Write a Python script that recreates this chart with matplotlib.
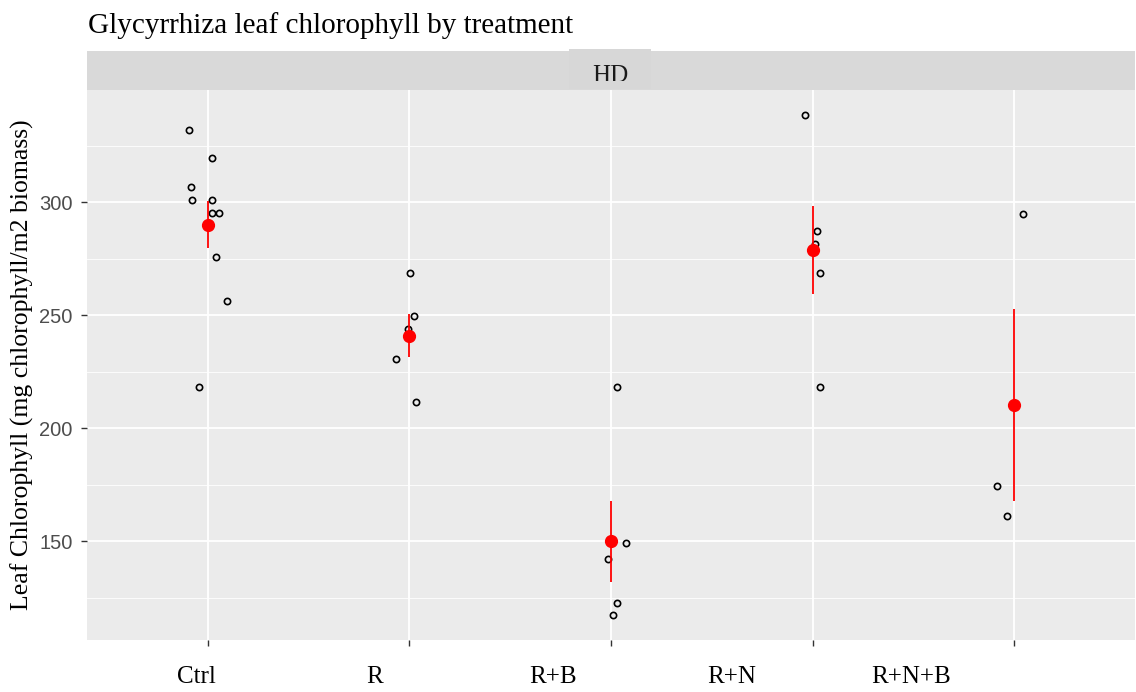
import numpy as np
import matplotlib
matplotlib.use("Agg")
import matplotlib.pyplot as plt
from matplotlib.patches import Rectangle
from matplotlib.transforms import Bbox

# Treatments and individual leaf chlorophyll measurements (mg chlorophyll / m2 biomass)
treatments = ["Ctrl", "R", "R+B", "R+N", "R+N+B"]
ctrl_vals = [331.9, 319.5, 306.6, 300.9, 300.9, 295.1, 295.1, 275.8, 256.0, 218.1]
r_vals = [268.6, 249.6, 243.8, 230.5, 211.5]
rb_vals = [218.1, 149.3, 142.0, 122.5, 117.3]
rn_vals = [338.5, 287.2, 281.4, 268.6, 218.1]
rnb_vals = [294.7, 174.3, 161.2]

# horizontal jitter applied to the raw points (category units)
ctrl_jit = [-0.094, 0.020, -0.084, -0.079, 0.020, 0.020, 0.055, 0.040, 0.094, -0.045]
r_jit = [0.003, 0.023, -0.005, -0.069, 0.030]
rb_jit = [0.028, 0.076, -0.015, 0.028, 0.012]
rn_jit = [-0.038, 0.022, 0.013, 0.037, 0.037]
rnb_jit = [0.045, -0.084, -0.036]

y_ticks = [150, 200, 250, 300]
y_minor = [125, 175, 225, 275, 325]
facet_label = "HD"

groups = [ctrl_vals, r_vals, rb_vals, rn_vals, rnb_vals]
jitters = [ctrl_jit, r_jit, rb_jit, rn_jit, rnb_jit]

W, H = 1136, 692
fig = plt.figure(figsize=(W / 100, H / 100), dpi=100, facecolor="white")

# panel geometry in pixels
pl, pr, pt, pb = 87, 1135, 90, 640
ax = fig.add_axes([pl / W, 1 - pb / H, (pr - pl) / W, (pb - pt) / H])
ax.set_facecolor("#EBEBEB")
for s in ax.spines.values():
    s.set_visible(False)

all_vals = np.concatenate([np.asarray(g) for g in groups])
lo, hi = all_vals.min(), all_vals.max()
pad = 0.05 * (hi - lo)
ax.set_ylim(lo - pad, hi + pad)
ax.set_xlim(0.4, len(treatments) + 0.6)

# grid
for v in y_minor:
    ax.axhline(v, color="white", lw=0.6, zorder=0.5)
for v in y_ticks:
    ax.axhline(v, color="white", lw=1.3, zorder=0.6)
for i in range(len(treatments)):
    ax.axvline(i + 1, color="white", lw=1.3, zorder=0.6)

# raw points
for i, (vals, jit) in enumerate(zip(groups, jitters)):
    xs = [i + 1 + j for j in jit]
    ax.plot(xs, vals, linestyle="none", marker="o", markersize=4.5,
            markerfacecolor="none", markeredgecolor="black",
            markeredgewidth=1.2, zorder=3)

# mean +/- standard error
for i, vals in enumerate(groups):
    v = np.asarray(vals, dtype=float)
    m = v.mean()
    se = v.std(ddof=1) / np.sqrt(len(v))
    ax.plot([i + 1, i + 1], [m - se, m + se], color="red", lw=1.3, zorder=4,
            solid_capstyle="butt")
    ax.plot([i + 1], [m], marker="o", markersize=8.5, color="red", zorder=5,
            linestyle="none")

# axes ticks
ax.set_yticks(y_ticks)
ax.set_yticklabels([str(t) for t in y_ticks], fontfamily="Liberation Sans",
                   fontsize=14.5, color="#4D4D4D")
ax.tick_params(axis="y", length=4, width=1, color="#333333", pad=6.5)
ax.set_xticks(range(1, len(treatments) + 1))
ax.set_xticklabels([""] * len(treatments))
ax.tick_params(axis="x", length=4, width=1, color="#333333")

# category labels below the panel
lab_start, lab_step = 0.104, 0.1705
for i, name in enumerate(treatments):
    fig.text((pl + (lab_start + i * lab_step) * (pr - pl)) / W, 1 - 677 / H, name,
             ha="center", va="center", fontfamily="Liberation Serif",
             fontsize=18, color="black")

# y axis title
fig.text(22 / W, 1 - 365 / H, "Leaf Chlorophyll (mg chlorophyll/m2 biomass)",
         rotation=90, ha="center", va="center", fontfamily="Liberation Serif",
         fontsize=18.5, color="black")

# plot title
fig.text(88 / W, 1 - 33 / H, "Glycyrrhiza leaf chlorophyll by treatment",
         ha="left", va="baseline", fontfamily="Liberation Serif",
         fontsize=21, color="black")

# facet strip
fig.patches.append(Rectangle((pl / W, 1 - 90 / H), (pr - pl) / W, 39.3 / H,
                             transform=fig.transFigure, facecolor="#D9D9D9",
                             edgecolor="none", zorder=1))
fig.patches.append(Rectangle((569 / W, 1 - 89.3 / H), 82 / W, 40.3 / H,
                             transform=fig.transFigure, facecolor="#D7D7D7",
                             edgecolor="none", zorder=1.1))
strip_txt = fig.text(610 / W, 1 - 65 / H, facet_label, ha="center", va="top",
                     fontfamily="Liberation Serif", fontsize=18, color="#1A1A1A",
                     zorder=2)
strip_txt.set_clip_box(Bbox.from_extents(0, H - 81, W, H))
strip_txt.set_clip_on(True)

fig.savefig("out.png", dpi=100, facecolor="white")
